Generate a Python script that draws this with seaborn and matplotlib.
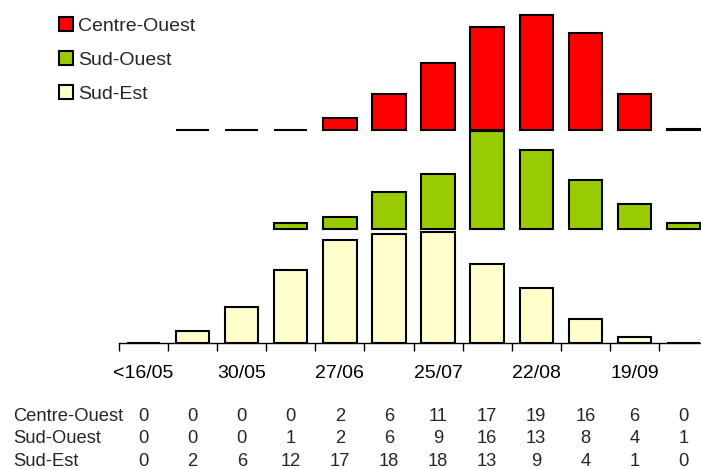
import numpy as np
import matplotlib
matplotlib.use("Agg")
import matplotlib.pyplot as plt
from matplotlib.patches import Patch
from matplotlib.transforms import blended_transform_factory
import seaborn as sns

# periods (12 fortnights), only every other one is labelled
periods = list(range(12))
tick_pos = [0, 2, 4, 6, 8, 10]
tick_labels = ['<16/05', '30/05', '27/06', '25/07', '22/08', '19/09']

regions = ['Centre-Ouest', 'Sud-Ouest', 'Sud-Est']
# NaN = no bar drawn at all; table shows rounded values
centre_ouest = [np.nan, 0, 0, 0, 2, 6, 11, 17, 19, 16, 6, 0.2]
sud_ouest = [np.nan, np.nan, np.nan, 1, 2, 6, 9, 16, 13, 8, 4, 1]
sud_est = [0, 2, 6, 12, 17, 18, 18.2, 13, 9, 4, 1, 0]

series = {'Centre-Ouest': centre_ouest, 'Sud-Ouest': sud_ouest, 'Sud-Est': sud_est}
colors = {'Centre-Ouest': '#ff0000', 'Sud-Ouest': '#99cc00', 'Sud-Est': '#ffffcc'}
# vertical shift of each ridge
offsets = {'Centre-Ouest': 35, 'Sud-Ouest': 18.8, 'Sud-Est': 0}

sns.set_style("white")
plt.rcParams['font.family'] = ['Liberation Sans', 'DejaVu Sans']

fig = plt.figure(figsize=(7.01, 4.69), dpi=100)
ax = fig.add_axes([119 / 701, 126 / 469, 589 / 701, 343 / 469])

for name in regions:
    y = np.array(series[name], dtype=float)
    sns.barplot(x=periods, y=y, order=periods, color=colors[name],
                saturation=1, width=0.68, edgecolor='black', linewidth=1.5,
                bottom=offsets[name], errorbar=None, ax=ax)

ax.set_xlim(-0.5, 11.5)
ax.set_ylim(0, 56.4)
ax.set_xlabel('')
ax.set_ylabel('')
ax.set_yticks([])
for s in ['left', 'top', 'right']:
    ax.spines[s].set_visible(False)
ax.spines['bottom'].set_color('black')
ax.spines['bottom'].set_linewidth(1)

ax.set_xticks(tick_pos)
ax.set_xticklabels(tick_labels, fontsize=14)
ax.set_xticks(np.arange(-0.5, 11, 1), minor=True)
ax.tick_params(axis='x', which='major', length=0, pad=16, colors='black')
ax.tick_params(axis='x', which='minor', length=6, width=1, color='black',
               direction='out', bottom=True)

# data table under the chart
trans = blended_transform_factory(ax.transData, fig.transFigure)
row_y = [1 - 416 / 469, 1 - 438.5 / 469, 1 - 461 / 469]
for name, ry in zip(regions, row_y):
    fig.text(13 / 701, ry, name, fontsize=13.2, ha='left', va='center')
    for i, v in enumerate(series[name]):
        v = 0 if np.isnan(v) else v
        ax.text(i, ry, f"{v:.0f}", transform=trans, fontsize=13.2,
                ha='center', va='center', clip_on=False)

handles = [Patch(facecolor=colors[n], edgecolor='black', linewidth=1.5) for n in regions]
fig.legend(handles, regions, loc='upper left', bbox_to_anchor=(59 / 701, 1 - 17 / 469),
           frameon=False, fontsize=14, handlelength=0.7, handleheight=0.7,
           handletextpad=0.3, labelspacing=0.84, borderpad=0, borderaxespad=0)

fig.savefig('out.png', dpi=100)
